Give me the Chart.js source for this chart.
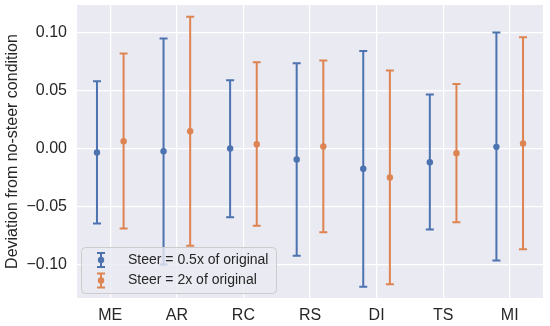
<!DOCTYPE html>
<html>
<head>
<meta charset="utf-8">
<script src="https://cdn.jsdelivr.net/npm/chart.js@4.4.1/dist/chart.umd.min.js"></script>
<style>
  html, body { margin: 0; padding: 0; background: #ffffff; }
  #wrap { width: 550px; height: 326px; }
</style>
</head>
<body>
<div id="wrap"><canvas id="c" width="550" height="326"></canvas></div>
<script>
const categories = ['ME', 'AR', 'RC', 'RS', 'DI', 'TS', 'MI'];
const seriesNames = ['Steer = 0.5x of original', 'Steer = 2x of original'];
const halfMean = [-0.0034, -0.0023, 0.0000, -0.0095, -0.0175, -0.0118, 0.0014];
const halfLow  = [-0.0645, -0.0998, -0.0591, -0.0924, -0.1190, -0.0697, -0.0964];
const halfHigh = [ 0.0579,  0.0947,  0.0588,  0.0734,  0.0840,  0.0465,  0.0998];
const doubleMean = [0.0063, 0.0149, 0.0037, 0.0017, -0.0250, -0.0040, 0.0043];
const doubleLow  = [-0.0688, -0.0838, -0.0666, -0.0720, -0.1168, -0.0634, -0.0867];
const doubleHigh = [ 0.0818,  0.1133,  0.0743,  0.0757,  0.0671,  0.0556,  0.0958];
const yTicks = [-0.10, -0.05, 0.00, 0.05, 0.10];

const COLORS = ['#4c72b0', '#dd8452'];
const FONT = '"Liberation Sans", Arial, sans-serif';
const TEXT = '#262626';

const means = [halfMean, doubleMean];

const bgPlugin = {
  id: 'bg',
  beforeDraw(chart) {
    const a = chart.chartArea, ctx = chart.ctx;
    ctx.save();
    ctx.fillStyle = '#eaeaf2';
    ctx.fillRect(a.left, a.top, a.right - a.left, a.bottom - a.top);
    ctx.restore();
  }
};

function drawErr(ctx, x, yTop, yBot, yMid, color, capHalf) {
  ctx.strokeStyle = color;
  ctx.fillStyle = color;
  ctx.lineWidth = 2;
  ctx.beginPath();
  ctx.moveTo(x, yTop); ctx.lineTo(x, yBot);
  ctx.moveTo(x - capHalf, yTop); ctx.lineTo(x + capHalf, yTop);
  ctx.moveTo(x - capHalf, yBot); ctx.lineTo(x + capHalf, yBot);
  ctx.stroke();
  ctx.beginPath();
  ctx.arc(x, yMid, 3.2, 0, Math.PI * 2);
  ctx.fill();
}

const errPlugin = {
  id: 'err',
  afterDatasetsDraw(chart) {
    const ctx = chart.ctx, y = chart.scales.y;
    ctx.save();
    chart.data.datasets.forEach((ds, di) => {
      const meta = chart.getDatasetMeta(di);
      meta.data.forEach((el, i) => {
        const [lo, hi] = ds.data[i];
        drawErr(ctx, el.x, y.getPixelForValue(hi), y.getPixelForValue(lo),
                y.getPixelForValue(means[di][i]), COLORS[di], 4);
      });
    });
    ctx.restore();
  },
  afterDraw(chart) {
    const ctx = chart.ctx, a = chart.chartArea;
    const bx = a.left + 4.5, by = a.bottom - 50.5, bw = 195, bh = 46;
    ctx.save();
    ctx.beginPath();
    ctx.roundRect(bx, by, bw, bh, 4);
    ctx.fillStyle = 'rgba(234,234,242,0.8)';
    ctx.fill();
    ctx.strokeStyle = '#cccccc';
    ctx.lineWidth = 1;
    ctx.stroke();
    ctx.font = '14px ' + FONT;
    ctx.textBaseline = 'middle';
    ctx.textAlign = 'left';
    const rows = [by + 12.5, by + 33];
    seriesNames.forEach((name, k) => {
      const cy = rows[k];
      drawErr(ctx, bx + 19.5, cy - 7, cy + 7, cy, COLORS[k], 4);
      ctx.fillStyle = TEXT;
      ctx.fillText(name, bx + 46.5, cy);
    });
    ctx.restore();
  }
};

new Chart(document.getElementById('c'), {
  type: 'bar',
  data: {
    labels: categories,
    datasets: [
      { label: seriesNames[0], data: halfLow.map((l, i) => [l, halfHigh[i]]),
        backgroundColor: 'rgba(0,0,0,0)', borderWidth: 0 },
      { label: seriesNames[1], data: doubleLow.map((l, i) => [l, doubleHigh[i]]),
        backgroundColor: 'rgba(0,0,0,0)', borderWidth: 0 }
    ]
  },
  options: {
    responsive: false,
    animation: false,
    events: [],
    datasets: { bar: { categoryPercentage: 0.8, barPercentage: 0.1 } },
    layout: { padding: { top: 5, right: 7, left: 0, bottom: 0 } },
    plugins: { legend: { display: false }, tooltip: { enabled: false } },
    scales: {
      x: {
        grid: { color: '#ffffff', lineWidth: 1.2, offset: false, drawTicks: false },
        border: { display: false },
        ticks: { color: TEXT, font: { family: FONT, size: 16 }, padding: 8 },
        afterFit(s) { s.height = 28; s.paddingLeft = 0; s.paddingRight = 0; }
      },
      y: {
        min: -0.1287, max: 0.1235,
        grid: { color: '#ffffff', lineWidth: 1.2, drawTicks: false },
        border: { display: false },
        afterBuildTicks(s) { s.ticks = yTicks.map(v => ({ value: v })); },
        ticks: {
          color: TEXT, font: { family: FONT, size: 16 }, padding: 10,
          callback: v => { const s = Number(v).toFixed(2); return s.startsWith('-') ? '\u2212' + s.slice(1) : s.replace(/^-/, ''); }
        },
        title: { display: true, text: 'Deviation from no-steer condition', color: TEXT,
                 font: { family: FONT, size: 16 }, padding: { top: 3, bottom: 4 } },
        afterFit(s) { s.width = 77; s.paddingTop = 0; s.paddingBottom = 0; }
      }
    }
  },
  plugins: [bgPlugin, errPlugin]
});
</script>
</body>
</html>
